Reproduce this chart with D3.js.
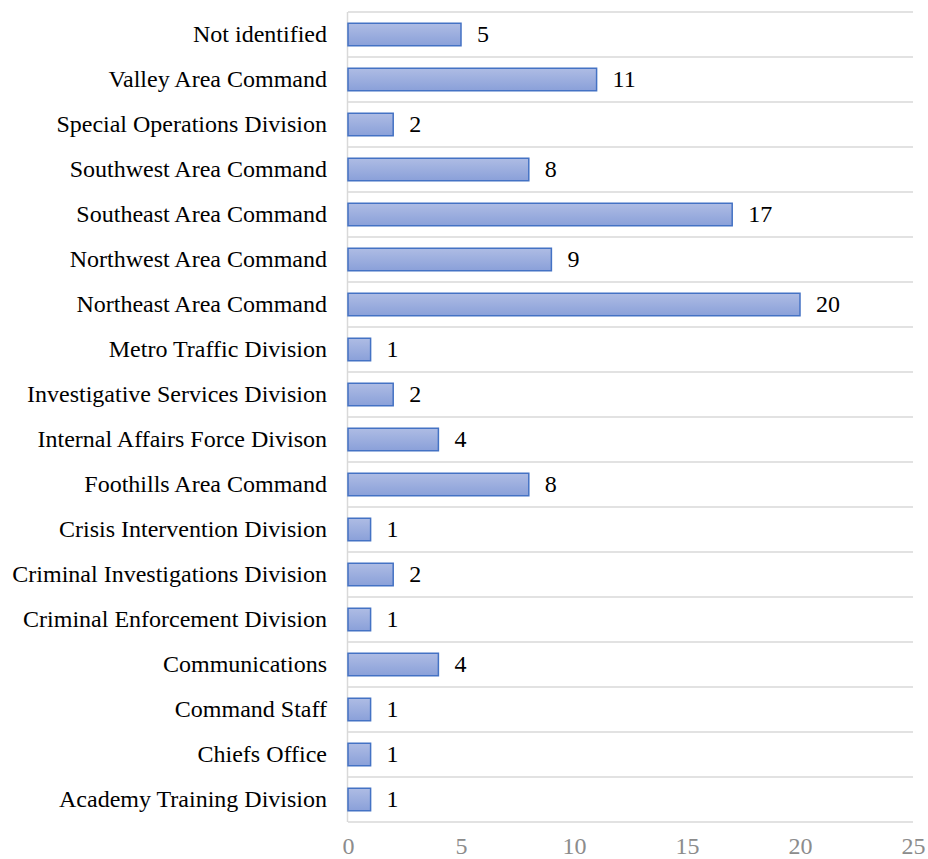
<!DOCTYPE html>
<html>
<head>
<meta charset="utf-8">
<script src="https://cdn.jsdelivr.net/npm/d3@7"></script>
<style>
  html, body { margin: 0; padding: 0; background: #fff; }
  svg { display: block; }
</style>
</head>
<body>
<div id="chart"></div>
<script>
const categories = [
  "Not identified",
  "Valley Area Command",
  "Special Operations Division",
  "Southwest Area Command",
  "Southeast Area Command",
  "Northwest Area Command",
  "Northeast Area Command",
  "Metro Traffic Division",
  "Investigative Services Division",
  "Internal Affairs Force Divison",
  "Foothills Area Command",
  "Crisis Intervention Division",
  "Criminal Investigations Division",
  "Criminal Enforcement Division",
  "Communications",
  "Command Staff",
  "Chiefs Office",
  "Academy Training Division"
];
const values = [5, 11, 2, 8, 17, 9, 20, 1, 2, 4, 8, 1, 2, 1, 4, 1, 1, 1];
const xTicks = [0, 5, 10, 15, 20, 25];

const W = 928, H = 859;
const margin = { left: 348, right: 15, top: 12, bottom: 37 };
const FONT = "'Liberation Serif', 'Times New Roman', serif";
const FS = 24;

const svg = d3.select("#chart").append("svg").attr("width", W).attr("height", H);

const defs = svg.append("defs");
const grad = defs.append("linearGradient").attr("id", "barGrad")
  .attr("x1", 0).attr("y1", 0).attr("x2", 0).attr("y2", 1);
grad.append("stop").attr("offset", "0%").attr("stop-color", "#aebce4");
grad.append("stop").attr("offset", "100%").attr("stop-color", "#8aa0d9");

const x = d3.scaleLinear().domain([0, 25]).range([margin.left, W - margin.right]);
const y = d3.scaleBand().domain(categories).range([margin.top, H - margin.bottom])
  .paddingInner(0.5).paddingOuter(0.25);

const step = y.step();

// horizontal gridlines at band boundaries
const gridYs = d3.range(categories.length + 1).map(i => margin.top + i * step);
svg.append("g").selectAll("line").data(gridYs).join("line")
  .attr("x1", x(0)).attr("x2", x(25))
  .attr("y1", d => d).attr("y2", d => d)
  .attr("stroke", "#d9d9d9").attr("stroke-width", 1.5);

// left axis line
svg.append("line")
  .attr("x1", x(0) - 0.5).attr("x2", x(0) - 0.5)
  .attr("y1", margin.top).attr("y2", H - margin.bottom)
  .attr("stroke", "#d9d9d9").attr("stroke-width", 1.5);

// bars
svg.append("g").selectAll("rect").data(values).join("rect")
  .attr("x", x(0))
  .attr("y", (d, i) => y(categories[i]))
  .attr("width", d => x(d) - x(0))
  .attr("height", y.bandwidth())
  .attr("fill", "url(#barGrad)")
  .attr("stroke", "#4472c4")
  .attr("stroke-width", 1.5);

// value labels
svg.append("g").selectAll("text").data(values).join("text")
  .attr("x", d => x(d) + 16)
  .attr("y", (d, i) => y(categories[i]) + y.bandwidth() / 2)
  .attr("dy", "0.33em")
  .attr("font-family", FONT).attr("font-size", FS)
  .attr("fill", "#000")
  .text(d => d);

// category labels
svg.append("g").selectAll("text").data(categories).join("text")
  .attr("x", x(0) - 21)
  .attr("y", d => y(d) + y.bandwidth() / 2)
  .attr("dy", "0.33em")
  .attr("text-anchor", "end")
  .attr("font-family", FONT).attr("font-size", FS)
  .attr("fill", "#000")
  .text(d => d);

// x axis tick labels
const xAxis = d3.axisBottom(x).tickValues(xTicks).tickSize(0).tickPadding(0);
const gx = svg.append("g").attr("transform", `translate(0, ${H - margin.bottom})`).call(xAxis);
gx.select(".domain").remove();
gx.selectAll("text")
  .attr("y", 32).attr("dy", 0)
  .attr("font-family", FONT).attr("font-size", FS)
  .attr("fill", "#8c8c8c");
</script>
</body>
</html>
